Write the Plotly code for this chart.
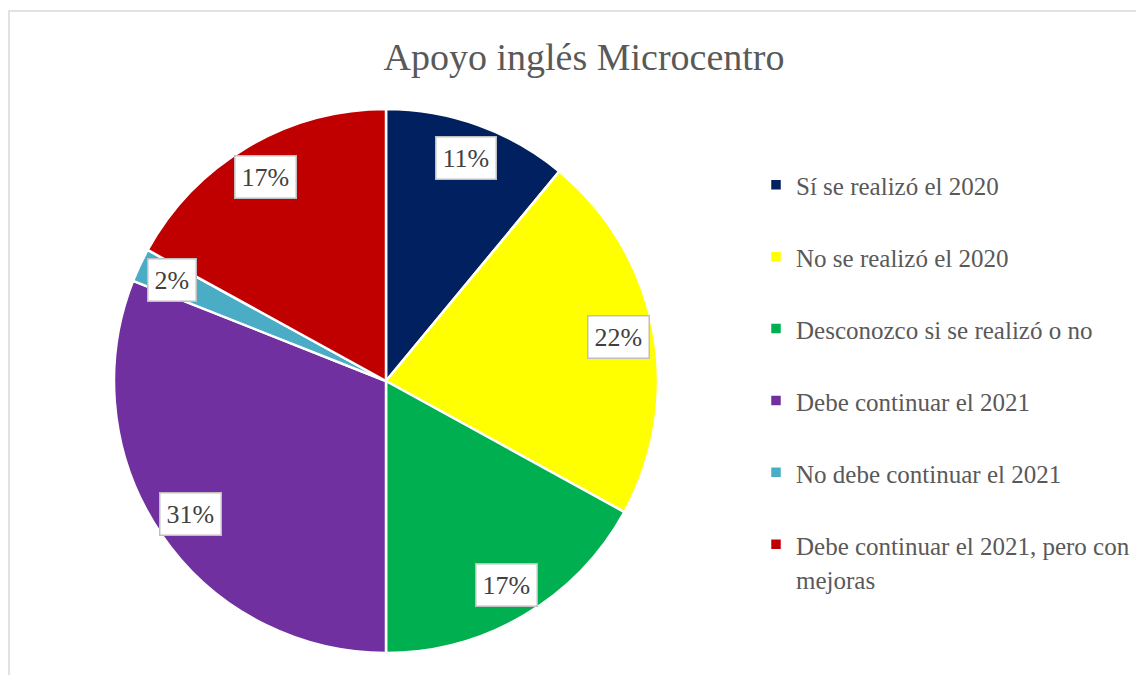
import math
import plotly.graph_objects as go

# datos
categorias = [
    "Sí se realizó el 2020",
    "No se realizó el 2020",
    "Desconozco si se realizó o no",
    "Debe continuar el 2021",
    "No debe continuar el 2021",
    "Debe continuar el 2021, pero con<br>mejoras",
]
valores = [11, 22, 17, 31, 2, 17]
colores = ["#002060", "#FFFF00", "#00B050", "#7030A0", "#4BACC6", "#C00000"]
titulo = "Apoyo inglés Microcentro"

W, H = 1144, 675
OFF = 8  # margen del <body> en la página
FONT = "Liberation Serif"
TXT = "#595959"

# dominio del pie (centro 386,381 radio 272 px en pantalla)
cx, cy, rad = 386 - OFF, 381 - OFF, 272
dom_x = [(cx - rad) / W, (cx + rad) / W]
dom_y = [(H - cy - rad) / H, (H - cy + rad) / H]

leyenda = []
for c in categorias:
    if "<br>" in c:
        leyenda.append(f"<span style='font-size:25px'>{c}</span>")
    else:
        leyenda.append(f"<span style='font-size:25px'>{c}</span><br>&nbsp;")

fig = go.Figure()
fig.add_trace(go.Pie(
    labels=leyenda,
    values=valores,
    marker=dict(colors=colores, line=dict(color="white", width=2.5)),
    sort=False,
    direction="clockwise",
    rotation=0,
    textinfo="none",
    hoverinfo="label+percent",
    domain=dict(x=dom_x, y=dom_y),
))

# etiquetas tipo "callout" en el ángulo medio de cada porción
total = sum(valores)
acum = 0
for v in valores:
    medio = (acum + v / 2) / total * 2 * math.pi
    acum += v
    r = 0.87
    fig.add_annotation(
        x=r * math.sin(medio), y=r * math.cos(medio), xref="x", yref="y",
        text=f"{round(v / total * 100)}%", showarrow=False,
        font=dict(family=FONT, size=26, color="#404040"),
        bgcolor="white", bordercolor="#BFBFBF", borderwidth=1.5, borderpad=6,
    )

fig.update_layout(
    width=W, height=H,
    margin=dict(l=0, r=0, t=0, b=0),
    paper_bgcolor="white", plot_bgcolor="rgba(0,0,0,0)",
    title=dict(text=titulo, x=(584 - OFF) / W, xanchor="center",
               y=1 - (57 - OFF) / H, yanchor="middle",
               font=dict(family=FONT, size=38, color=TXT)),
    xaxis=dict(domain=dom_x, range=[-1, 1], visible=False, fixedrange=True),
    yaxis=dict(domain=dom_y, range=[-1, 1], visible=False, fixedrange=True),
    showlegend=True,
    legend=dict(x=(756 - OFF) / W, xanchor="left", y=1 - 153 / H, yanchor="top",
                valign="top", font=dict(family=FONT, size=26.5, color=TXT),
                bgcolor="rgba(0,0,0,0)"),
    shapes=[dict(type="rect", xref="paper", yref="paper",
                 x0=1 / W, x1=1.01, y0=-0.01, y1=1 - (11 - OFF) / H,
                 line=dict(color="#D9D9D9", width=1.5))],
)

fig.write_html("out.html")
